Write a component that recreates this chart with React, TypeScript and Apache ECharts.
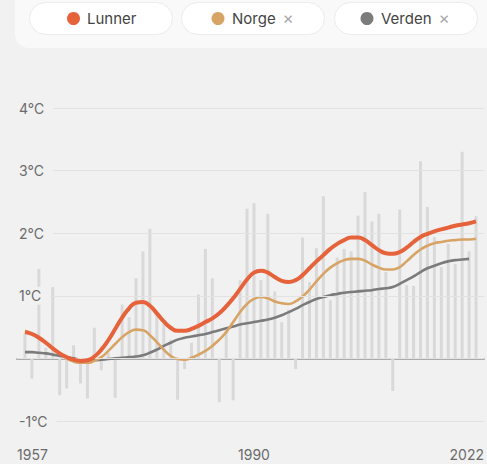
import React, { useEffect, useRef } from "react";
import * as echarts from "echarts";

const startYear = 1957;
const endYear = 2022;
const years: number[] = Array.from({ length: endYear - startYear + 1 }, (_, i) => startYear + i);

// Annual anomaly bars (Lunner), °C
const annualValues: number[] = [
  0.4, -0.32, 1.43, 0.17, 1.14, -0.59, -0.48, 0.21, -0.4, -0.64,
  0.49, -0.19, 0.1, -0.63, 0.86, 0.66, 1.28, 1.71, 2.07, 0.71,
  0.56, 0.3, -0.66, -0.17, 0.25, 1.02, 1.75, 1.28, -0.7, 0.45,
  -0.67, 1.25, 2.39, 2.48, 1.25, 2.31, 1.07, 0.58, 0.78, -0.17,
  1.93, 1.22, 1.76, 2.59, 0.93, 1.61, 1.75, 1.71, 2.28, 2.66,
  2.19, 2.31, 1.38, -0.52, 2.38, 1.17, 1.16, 3.15, 2.42, 1.94,
  1.46, 1.83, 1.51, 3.3, 1.71, 2.27,
];

const lunnerTrend: number[] = [
  0.42, 0.39, 0.33, 0.25, 0.16, 0.08, 0.02, -0.02, -0.04, -0.03,
  0.03, 0.14, 0.29, 0.47, 0.65, 0.8, 0.89, 0.9, 0.84, 0.72,
  0.59, 0.49, 0.44, 0.44, 0.47, 0.52, 0.58, 0.64, 0.72, 0.83,
  0.96, 1.11, 1.26, 1.37, 1.4, 1.37, 1.3, 1.24, 1.22, 1.25,
  1.33, 1.44, 1.55, 1.65, 1.75, 1.83, 1.89, 1.93, 1.93, 1.89,
  1.81, 1.73, 1.68, 1.67, 1.7, 1.77, 1.86, 1.94, 1.99, 2.03,
  2.06, 2.09, 2.12, 2.14, 2.16, 2.19,
];

const norgeTrend: number[] = [
  0.44, 0.4, 0.34, 0.26, 0.17, 0.08, 0.0, -0.05, -0.07, -0.07,
  -0.04, 0.02, 0.12, 0.23, 0.34, 0.42, 0.46, 0.45, 0.37, 0.26,
  0.14, 0.04, -0.01, -0.02, 0.01, 0.06, 0.12, 0.2, 0.3, 0.42,
  0.58, 0.74, 0.87, 0.95, 0.98, 0.96, 0.91, 0.88, 0.87, 0.91,
  0.99, 1.1, 1.23, 1.35, 1.45, 1.52, 1.57, 1.59, 1.59, 1.56,
  1.5, 1.45, 1.42, 1.42, 1.46, 1.55, 1.65, 1.74, 1.8, 1.84,
  1.86, 1.88, 1.89, 1.9, 1.9, 1.91,
];

// ends in 2021
const verdenTrend: number[] = [
  0.1, 0.1, 0.09, 0.08, 0.06, 0.04, 0.02, 0.0, -0.02, -0.03,
  -0.03, -0.02, -0.01, 0.0, 0.01, 0.02, 0.03, 0.05, 0.09, 0.14,
  0.2, 0.25, 0.3, 0.33, 0.35, 0.37, 0.39, 0.42, 0.45, 0.48,
  0.51, 0.54, 0.56, 0.58, 0.6, 0.62, 0.65, 0.69, 0.74, 0.79,
  0.85, 0.9, 0.95, 0.98, 1.01, 1.03, 1.05, 1.06, 1.07, 1.08,
  1.09, 1.11, 1.12, 1.14, 1.19, 1.25, 1.31, 1.38, 1.44, 1.48,
  1.52, 1.55, 1.57, 1.58, 1.59,
];

const xTickLabels: string[] = ["1957", "1990", "2022"];
const yTickValues: number[] = [-1, 1, 2, 3, 4];
const legendNames: string[] = ["Lunner", "Norge", "Verden"];

const COLORS = { lunner: "#e5623a", norge: "#d7a466", verden: "#7b7b7b", bar: "#d9d9d9" };
const FONT = "Inter, 'Noto Sans', sans-serif";

const X_MIN = 1955.85;
const X_MAX = 2023.15;

function pill(x: number, name: string, color: string, closable: boolean, textX: number, dotX: number, crossX: number) {
  const children: any[] = [
    {
      type: "rect",
      z: 11,
      shape: { x, y: 2.5, width: 143, height: 32, r: 16 },
      style: { fill: "#ffffff", stroke: "#ebebeb", lineWidth: 1 },
    },
    { type: "circle", z: 12, shape: { cx: dotX, cy: 18.5, r: 6.5 }, style: { fill: color } },
    {
      type: "text",
      z: 12,
      x: textX,
      y: 18.5,
      style: { text: name, fill: "#444444", font: `15px ${FONT}`, verticalAlign: "middle", align: "left" },
    },
  ];
  if (closable) {
    children.push({
      type: "text",
      z: 12,
      x: crossX,
      y: 18,
      style: { text: "×", fill: "#a8a8a8", font: `17px ${FONT}`, verticalAlign: "middle", align: "center" },
    });
  }
  return children;
}

export default function App() {
  const ref = useRef<HTMLDivElement>(null);
  useEffect(() => {
    if (!ref.current) return;
    const chart = echarts.init(ref.current, null, { renderer: "svg" });
    const barData = years.map((y, i) => [y, annualValues[i]]);
    const lunnerData = years.map((y, i) => [y, lunnerTrend[i]]);
    const norgeData = years.map((y, i) => [y, norgeTrend[i]]);
    const verdenData = verdenTrend.map((v, i) => [years[i], v]);

    chart.setOption({
      animation: false,
      backgroundColor: "#f1f1f1",
      grid: { left: 17, right: 3, top: 108, bottom: 43, containLabel: false },
      xAxis: [
        {
          type: "value",
          min: X_MIN,
          max: X_MAX,
          position: "bottom",
          axisLine: { show: true, onZero: true, lineStyle: { color: "#ababab", width: 2 } },
          axisTick: { show: false },
          axisLabel: { show: false },
          splitLine: { show: false },
        },
        {
          type: "value",
          min: X_MIN,
          max: X_MAX,
          position: "bottom",
          axisLine: { show: false, onZero: false },
          axisTick: { show: false },
          splitLine: { show: false },
          axisLabel: {
            show: true,
            customValues: [X_MIN, 1990, X_MAX],
            alignMinLabel: "left",
            alignMaxLabel: "right",
            margin: 26,
            color: "#6b6b6b",
            fontSize: 14,
            fontFamily: FONT,
            formatter: (v: number) =>
              v < 1960 ? xTickLabels[0] : v > 2020 ? xTickLabels[2] : xTickLabels[1],
          },
        },
      ],
      yAxis: {
        type: "value",
        min: -1,
        max: 4,
        interval: 1,
        axisLine: { show: false },
        axisTick: { show: false },
        splitLine: { show: true, lineStyle: { color: "#e2e2e2", width: 1 } },
        axisLabel: {
          inside: true,
          customValues: yTickValues,
          margin: 0,
          color: "#6b6b6b",
          fontSize: 14,
          fontFamily: FONT,
          backgroundColor: "#f1f1f1",
          padding: [2, 9, 2, 2],
          formatter: (v: number) => `${v}°C`,
        },
        z: 5,
      },
      series: [
        {
          type: "bar",
          xAxisIndex: 0,
          data: barData,
          barWidth: 3,
          itemStyle: { color: COLORS.bar },
          silent: true,
        },
        {
          type: "line",
          name: legendNames[2],
          xAxisIndex: 0,
          data: verdenData,
          smooth: true,
          showSymbol: false,
          lineStyle: { color: COLORS.verden, width: 2.6 },
          z: 3,
        },
        {
          type: "line",
          name: legendNames[1],
          xAxisIndex: 0,
          data: norgeData,
          smooth: true,
          showSymbol: false,
          lineStyle: { color: COLORS.norge, width: 2.6 },
          z: 4,
        },
        {
          type: "line",
          name: legendNames[0],
          xAxisIndex: 0,
          data: lunnerData,
          smooth: true,
          showSymbol: false,
          lineStyle: { color: COLORS.lunner, width: 4 },
          z: 5,
        },
      ],
      graphic: [
        {
          type: "rect",
          shape: { x: 15, y: -20, width: 490, height: 68, r: 14 },
          style: { fill: "#f9f9f9" },
          z: 10,
        },
        ...pill(29.5, legendNames[0], COLORS.lunner, false, 87, 73.5, 0),
        ...pill(181.5, legendNames[1], COLORS.norge, true, 232, 218, 288),
        ...pill(334.5, legendNames[2], COLORS.verden, true, 381, 367, 444),
      ],
    });
    return () => chart.dispose();
  }, []);
  return (
    <div
      ref={ref}
      style={{ position: "fixed", left: 0, top: 0, width: 487, height: 464, background: "#f1f1f1" }}
    />
  );
}
